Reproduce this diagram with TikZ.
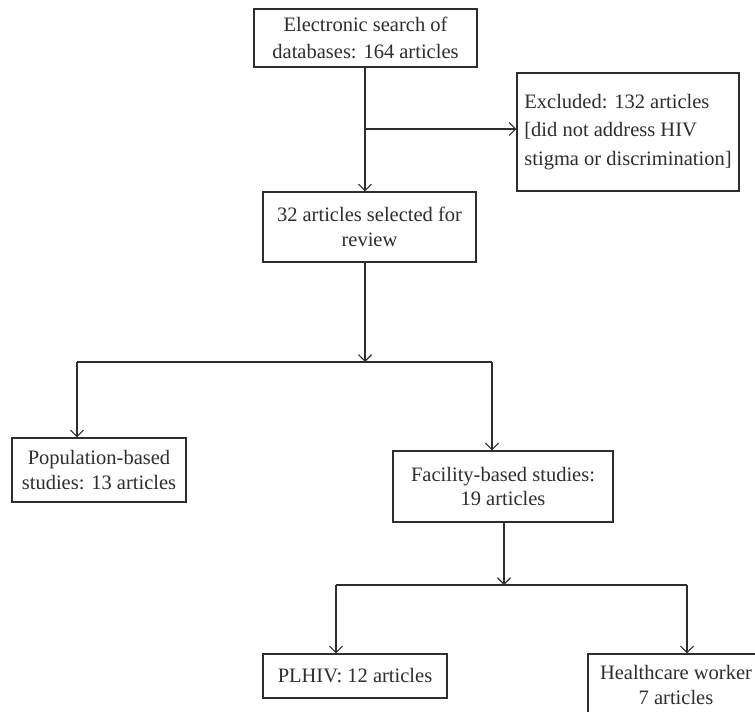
\documentclass[tikz,border=0pt]{standalone}
\usepackage{fontspec}
\setmainfont{Liberation Serif}
\usetikzlibrary{arrows.meta}
\definecolor{ink}{HTML}{2E2E2E}
\tikzset{
  box/.style={draw=ink, line width=1.1pt, rectangle, inner sep=3pt, align=center,
    text=ink, font=\fontsize{20.5}{24.5}\selectfont},
  conn/.style={draw=ink, line width=1.1pt},
  arr/.style={conn, -{Straight Barb[length=6.5pt,width=13pt,line width=1.1pt]}}
}
\begin{document}
\begin{tikzpicture}[x=1pt,y=-1pt]
\clip (0,0) rectangle (755,712);
\fill[white] (0,0) rectangle (755,712);

\node[box, minimum width=223, minimum height=58, font=\fontsize{20.5}{27}\selectfont] (search) at (365.5,38) {Electronic search of\\databases: 164 articles};
\node[box, minimum width=222, minimum height=118, align=left, font=\fontsize{20.5}{28.5}\selectfont] (excl) at (628,132) {Excluded: 132 articles\\{[}did not address HIV\\stigma or discrimination{]}};
\node[box, minimum width=213, minimum height=70] (sel) at (369.5,227) {32 articles selected for\\review};
\node[box, minimum width=174, minimum height=64] (pop) at (99,470) {Population-based\\studies: 13 articles};
\node[box, minimum width=220, minimum height=71] (fac) at (503,486.5) {Facility-based studies:\\19 articles};
\node[box, minimum width=184, minimum height=44] (plh) at (355,676) {PLHIV: 12 articles};
\node[box, minimum width=176, minimum height=62] (hcw) at (676,685) {Healthcare worker\\7 articles};

\coordinate (b1) at (365,129);
\coordinate (j1) at (365,362);
\coordinate (jl) at (77,362);
\coordinate (jr) at (492,362);
\coordinate (j2) at (504,585);
\coordinate (kl) at (336,585);
\coordinate (kr) at (687,585);

% search -> selected, with exclusion branch
\draw[arr] (b1 |- search.south) -- (b1 |- sel.north);
\draw[arr] (b1) -- (excl.west |- b1);

% selected -> split
\draw[arr] (j1 |- sel.south) -- (j1);
\draw[conn] (jl) -- (jr);
\draw[arr] (jl) -- (jl |- pop.north);
\draw[arr] (jr) -- (jr |- fac.north);

% facility -> split
\draw[arr] (j2 |- fac.south) -- (j2);
\draw[conn] (kl) -- (kr);
\draw[arr] (kl) -- (kl |- plh.north);
\draw[arr] (kr) -- (kr |- hcw.north);
\end{tikzpicture}
\end{document}
